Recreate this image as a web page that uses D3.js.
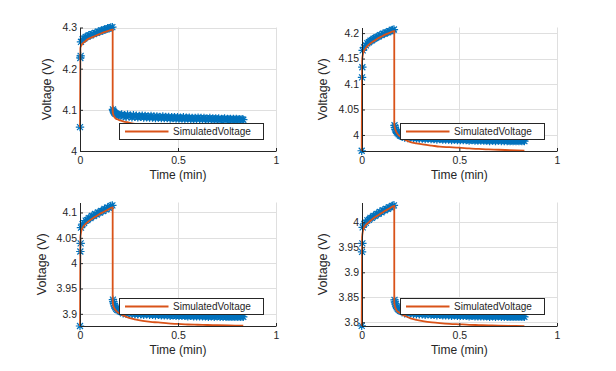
<!DOCTYPE html>
<html>
<head>
<meta charset="utf-8">
<title>Measured vs simulated voltage</title>
<script src="https://cdn.jsdelivr.net/npm/d3@7"></script>
<style>
  body { margin: 0; background: #fff; }
  text { font-family: "Liberation Sans", Arial, Helvetica, sans-serif; fill: #262626; }
</style>
</head>
<body>
<div id="chart"></div>
<script>
// sample times of the measured data (min)
const tMeas = [
  0, 0.0017, 0.0033,
  0.005, 0.013, 0.021, 0.029, 0.037, 0.045, 0.053, 0.061, 0.069, 0.077, 0.085,
  0.093, 0.101, 0.109, 0.117, 0.125, 0.133, 0.141, 0.149, 0.157, 0.165,
  0.168, 0.170, 0.173, 0.176, 0.180, 0.185, 0.190, 0.196, 0.203, 0.210,
  0.2125, 0.220, 0.2275, 0.235, 0.2425, 0.250, 0.2575, 0.265, 0.2725, 0.280,
  0.2875, 0.295, 0.3025, 0.310, 0.3175, 0.325, 0.3325, 0.340, 0.3475, 0.355,
  0.3625, 0.370, 0.3775, 0.385, 0.3925, 0.400, 0.4075, 0.415, 0.4225, 0.430,
  0.4375, 0.445, 0.4525, 0.460, 0.4675, 0.475, 0.4825, 0.490, 0.4975, 0.505,
  0.5125, 0.520, 0.5275, 0.535, 0.5425, 0.550, 0.5575, 0.565, 0.5725, 0.580,
  0.5875, 0.595, 0.6025, 0.610, 0.6175, 0.625, 0.6325, 0.640, 0.6475, 0.655,
  0.6625, 0.670, 0.6775, 0.685, 0.6925, 0.700, 0.7075, 0.715, 0.7225, 0.730,
  0.7375, 0.745, 0.7525, 0.760, 0.7675, 0.775, 0.7825, 0.790, 0.7975, 0.805,
  0.8125, 0.820, 0.8275, 0.833
];

// times of the simulated curve (min)
const tSim = [
  0, 0.002, 0.006, 0.01, 0.02, 0.03, 0.045, 0.06, 0.08, 0.1, 0.12, 0.14, 0.1667,
  0.1668, 0.17, 0.175, 0.18, 0.19, 0.2, 0.22, 0.25, 0.28, 0.32, 0.36, 0.4, 0.45,
  0.5, 0.55, 0.6, 0.65, 0.7, 0.76, 0.833
];

const measured1 = [
  4.058, 4.226, 4.231,
  4.265, 4.271, 4.273, 4.277, 4.278, 4.281, 4.281, 4.284, 4.284, 4.287, 4.287,
  4.290, 4.290, 4.293, 4.293, 4.295, 4.296, 4.298, 4.298, 4.300, 4.301,
  4.101, 4.098, 4.095, 4.093, 4.091, 4.090, 4.089, 4.088, 4.087, 4.087,
  4.089, 4.084, 4.087, 4.083, 4.088, 4.084, 4.086, 4.082, 4.087, 4.083,
  4.086, 4.082, 4.085, 4.083, 4.086, 4.081, 4.085, 4.082, 4.084, 4.081,
  4.085, 4.081, 4.084, 4.080, 4.084, 4.081, 4.083, 4.080, 4.084, 4.080,
  4.083, 4.080, 4.083, 4.079, 4.082, 4.080, 4.082, 4.079, 4.082, 4.079,
  4.081, 4.079, 4.082, 4.078, 4.081, 4.079, 4.081, 4.078, 4.080, 4.078,
  4.080, 4.078, 4.081, 4.078, 4.080, 4.077, 4.080, 4.078, 4.079, 4.077,
  4.080, 4.077, 4.079, 4.077, 4.079, 4.077, 4.079, 4.076, 4.078, 4.077,
  4.079, 4.076, 4.078, 4.077, 4.078, 4.076, 4.078, 4.076, 4.078, 4.076,
  4.077, 4.076, 4.077, 4.076
];
const measured2 = [
  3.969, 4.113, 4.133,
  4.166, 4.172, 4.176, 4.180, 4.182, 4.185, 4.186, 4.189, 4.190, 4.192, 4.193,
  4.196, 4.196, 4.199, 4.199, 4.201, 4.202, 4.204, 4.204, 4.206, 4.207,
  4.019, 4.015, 4.011, 4.008, 4.005, 4.003, 4.001, 3.999, 3.998, 3.997,
  3.999, 3.995, 3.998, 3.994, 3.998, 3.995, 3.997, 3.994, 3.997, 3.993,
  3.996, 3.993, 3.996, 3.993, 3.995, 3.992, 3.995, 3.993, 3.995, 3.992,
  3.994, 3.992, 3.994, 3.991, 3.994, 3.992, 3.993, 3.991, 3.993, 3.991,
  3.993, 3.991, 3.993, 3.990, 3.992, 3.991, 3.992, 3.990, 3.992, 3.990,
  3.992, 3.990, 3.992, 3.990, 3.991, 3.989, 3.991, 3.990, 3.991, 3.989,
  3.991, 3.989, 3.991, 3.989, 3.991, 3.989, 3.990, 3.989, 3.990, 3.988,
  3.990, 3.989, 3.990, 3.988, 3.990, 3.989, 3.990, 3.988, 3.990, 3.988,
  3.990, 3.988, 3.989, 3.988, 3.989, 3.988, 3.989, 3.988, 3.989, 3.988,
  3.989, 3.988, 3.989, 3.988
];
const measured3 = [
  3.876, 4.023, 4.039,
  4.070, 4.077, 4.079, 4.084, 4.085, 4.089, 4.089, 4.093, 4.093, 4.097, 4.096,
  4.100, 4.100, 4.103, 4.103, 4.107, 4.106, 4.110, 4.109, 4.113, 4.114,
  3.928, 3.924, 3.920, 3.916, 3.913, 3.910, 3.908, 3.907, 3.905, 3.904,
  3.905, 3.901, 3.904, 3.900, 3.904, 3.901, 3.903, 3.900, 3.903, 3.899,
  3.902, 3.899, 3.902, 3.899, 3.901, 3.898, 3.901, 3.899, 3.901, 3.898,
  3.900, 3.898, 3.900, 3.897, 3.900, 3.898, 3.899, 3.897, 3.899, 3.897,
  3.899, 3.897, 3.899, 3.896, 3.898, 3.897, 3.898, 3.896, 3.898, 3.896,
  3.898, 3.896, 3.898, 3.896, 3.897, 3.895, 3.897, 3.896, 3.897, 3.895,
  3.897, 3.895, 3.897, 3.895, 3.897, 3.895, 3.896, 3.895, 3.896, 3.894,
  3.896, 3.895, 3.896, 3.894, 3.896, 3.895, 3.896, 3.894, 3.896, 3.894,
  3.896, 3.894, 3.895, 3.894, 3.895, 3.894, 3.895, 3.894, 3.895, 3.894,
  3.895, 3.894, 3.895, 3.894
];
const measured4 = [
  3.793, 3.941, 3.958,
  3.990, 3.997, 3.999, 4.004, 4.005, 4.009, 4.009, 4.013, 4.013, 4.017, 4.017,
  4.021, 4.020, 4.024, 4.024, 4.027, 4.027, 4.030, 4.030, 4.033, 4.034,
  3.845, 3.841, 3.837, 3.833, 3.830, 3.827, 3.825, 3.823, 3.822, 3.821,
  3.822, 3.818, 3.821, 3.817, 3.821, 3.818, 3.820, 3.817, 3.820, 3.816,
  3.819, 3.816, 3.819, 3.816, 3.818, 3.815, 3.818, 3.816, 3.818, 3.815,
  3.817, 3.815, 3.817, 3.814, 3.817, 3.815, 3.816, 3.814, 3.816, 3.814,
  3.816, 3.814, 3.816, 3.813, 3.815, 3.814, 3.815, 3.813, 3.815, 3.813,
  3.815, 3.813, 3.815, 3.813, 3.814, 3.812, 3.814, 3.813, 3.814, 3.812,
  3.814, 3.812, 3.814, 3.812, 3.814, 3.812, 3.813, 3.812, 3.813, 3.811,
  3.813, 3.812, 3.813, 3.811, 3.813, 3.812, 3.813, 3.811, 3.813, 3.811,
  3.813, 3.811, 3.812, 3.811, 3.812, 3.811, 3.812, 3.811, 3.812, 3.811,
  3.812, 3.811, 3.812, 3.811
];

const simulated1 = [
  4.058, 4.250, 4.256, 4.259, 4.264, 4.268, 4.273, 4.276, 4.280, 4.284, 4.288, 4.291, 4.295,
  4.095, 4.088, 4.083, 4.080, 4.077, 4.075, 4.072, 4.069, 4.066, 4.063, 4.061, 4.059, 4.057,
  4.056, 4.055, 4.054, 4.053, 4.052, 4.051, 4.050
];
const simulated2 = [
  3.969, 4.145, 4.158, 4.163, 4.170, 4.175, 4.180, 4.184, 4.189, 4.193, 4.197, 4.200, 4.204,
  4.022, 4.014, 4.008, 4.004, 3.999, 3.996, 3.991, 3.986, 3.9835, 3.981, 3.979, 3.977, 3.976,
  3.975, 3.9735, 3.9725, 3.9715, 3.971, 3.970, 3.969
];
const simulated3 = [
  3.876, 4.050, 4.062, 4.067, 4.074, 4.078, 4.083, 4.087, 4.092, 4.097, 4.101, 4.105, 4.110,
  3.925, 3.916, 3.911, 3.908, 3.904, 3.901, 3.897, 3.892, 3.889, 3.886, 3.884, 3.883, 3.881,
  3.880, 3.879, 3.8785, 3.878, 3.8775, 3.877, 3.8765
];
const simulated4 = [
  3.793, 3.970, 3.982, 3.987, 3.994, 3.998, 4.003, 4.008, 4.013, 4.018, 4.023, 4.027, 4.033,
  3.840, 3.832, 3.827, 3.823, 3.820, 3.817, 3.813, 3.808, 3.805, 3.802, 3.800, 3.7985, 3.797,
  3.796, 3.795, 3.7945, 3.794, 3.7935, 3.793, 3.7925
];

const yLim1 = [4, 4.3];
const yLim2 = [3.9685, 4.211];
const yLim3 = [3.876, 4.1197];
const yLim4 = [3.7926, 4.0396];

const yTicks1 = [4, 4.1, 4.2, 4.3];
const yTicks2 = [4, 4.05, 4.1, 4.15, 4.2];
const yTicks3 = [3.9, 3.95, 4, 4.05, 4.1];
const yTicks4 = [3.8, 3.85, 3.9, 3.95, 4];
const xTicks = [0, 0.5, 1];
const xLim = [0, 1];

const legendLabel = "SimulatedVoltage";
const xLabel = "Time (min)";
const yLabel = "Voltage (V)";

const panels = [
  {meas: measured1, sim: simulated1, lim: yLim1, ticks: yTicks1, col: 0, row: 0},
  {meas: measured2, sim: simulated2, lim: yLim2, ticks: yTicks2, col: 1, row: 0},
  {meas: measured3, sim: simulated3, lim: yLim3, ticks: yTicks3, col: 0, row: 1},
  {meas: measured4, sim: simulated4, lim: yLim4, ticks: yTicks4, col: 1, row: 1}
];

// layout (pixels)
const W = 616, H = 371;
const colX = [[80, 276], [361.7, 557]];
const rowY = [[27.5, 151], [202.5, 326]];
const blue = "#0072BD", orange = "#D95319", axisCol = "#262626", gridCol = "#dfdfdf";

const fmt = d => String(+d.toFixed(3));

const svg = d3.select("#chart").append("svg")
    .attr("width", W)
    .attr("height", H)
    .style("display", "block");

// MATLAB-like '*' marker
const star = "M-4.2,0H4.2M0,-4.2V4.2M-3,-3L3,3M-3,3L3,-3";

panels.forEach(p => {
  const [x0, x1] = colX[p.col];
  const [yt, yb] = rowY[p.row];

  const x = d3.scaleLinear().domain(xLim).range([x0, x1]);
  const y = d3.scaleLinear().domain(p.lim).range([yb, yt]);

  const g = svg.append("g");

  // grid
  g.append("g").selectAll("line")
    .data(xTicks.filter(d => d > xLim[0]))
    .join("line")
      .attr("x1", d => Math.round(x(d)) + 0.5)
      .attr("x2", d => Math.round(x(d)) + 0.5)
      .attr("y1", yt)
      .attr("y2", yb)
      .attr("stroke", gridCol);
  g.append("g").selectAll("line")
    .data(p.ticks.filter(d => d > p.lim[0]))
    .join("line")
      .attr("x1", x0)
      .attr("x2", x1)
      .attr("y1", d => Math.round(y(d)) + 0.5)
      .attr("y2", d => Math.round(y(d)) + 0.5)
      .attr("stroke", gridCol);

  // measured data as asterisks
  g.append("g").selectAll("path")
    .data(p.meas.map((v, i) => [tMeas[i], v]))
    .join("path")
      .attr("transform", d => `translate(${x(d[0])},${y(d[1])})`)
      .attr("d", star)
      .attr("fill", "none")
      .attr("stroke", blue)
      .attr("stroke-width", 1.2);

  // simulated curve
  const line = d3.line()
    .x(d => x(d[0]))
    .y(d => y(d[1]))
    .curve(d3.curveMonotoneX);
  g.append("path")
    .datum(p.sim.map((v, i) => [tSim[i], v]))
    .attr("d", line)
    .attr("fill", "none")
    .attr("stroke", orange)
    .attr("stroke-width", 1.8);

  // axes, ticks pointing inward
  const xAxis = g.append("g")
    .attr("transform", `translate(0,${Math.round(yb)})`)
    .call(d3.axisBottom(x).tickValues(xTicks).tickFormat(fmt)
      .tickSizeInner(-3).tickSizeOuter(0).tickPadding(6));
  const yAxis = g.append("g")
    .attr("transform", `translate(${Math.round(x0)},0)`)
    .call(d3.axisLeft(y).tickValues(p.ticks).tickFormat(fmt)
      .tickSizeInner(-3).tickSizeOuter(0).tickPadding(3));
  [xAxis, yAxis].forEach(a => {
    a.attr("font-size", 10.5).attr("font-family", null);
    a.select(".domain").attr("stroke", axisCol);
    a.selectAll(".tick line").attr("stroke", axisCol);
    a.selectAll(".tick text").attr("fill", axisCol);
  });

  // axis labels
  g.append("text")
    .attr("x", (x0 + x1) / 2)
    .attr("y", yb + 28)
    .attr("text-anchor", "middle")
    .attr("font-size", 12)
    .text(xLabel);

  let maxW = 0;
  yAxis.selectAll(".tick text").each(function() {
    maxW = Math.max(maxW, this.getComputedTextLength());
  });
  const lx = x0 - 3 - maxW - 14;
  g.append("text")
    .attr("transform", `translate(${lx + 3},${(yt + yb) / 2}) rotate(-90)`)
    .attr("text-anchor", "middle")
    .attr("font-size", 12.5)
    .text(yLabel);

  // legend (south east)
  const lw = 144, lh = 16;
  const lgX = Math.round(x1 - 13 - lw) + 0.5;
  const lgY = Math.round(yb - 12 - lh) + 0.5;
  const lg = g.append("g").attr("transform", `translate(${lgX},${lgY})`);
  lg.append("rect")
    .attr("width", lw)
    .attr("height", lh)
    .attr("fill", "#fff")
    .attr("stroke", axisCol)
    .attr("stroke-width", 1);
  lg.append("line")
    .attr("x1", 5.5).attr("x2", 49)
    .attr("y1", lh / 2).attr("y2", lh / 2)
    .attr("stroke", orange)
    .attr("stroke-width", 1.8);
  lg.append("text")
    .attr("x", 53.5)
    .attr("y", lh / 2)
    .attr("dy", "0.35em")
    .attr("font-size", 10)
    .text(legendLabel);
});
</script>
</body>
</html>
